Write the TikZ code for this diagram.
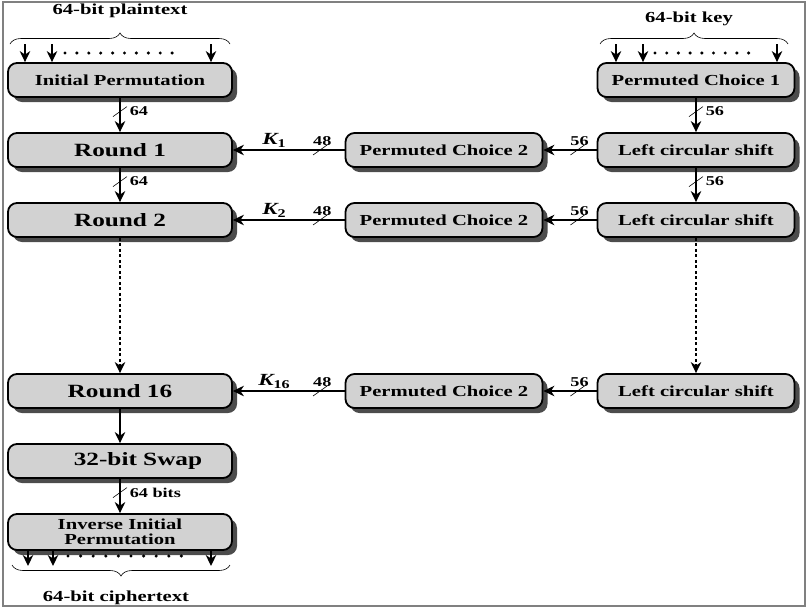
\documentclass[tikz,border=0pt]{standalone}
\usepackage{fontspec}
\setmainfont{Liberation Serif}[FakeStretch=1.35]
\usetikzlibrary{positioning, arrows.meta, shadows, decorations.pathreplacing, decorations.markings}
\tikzset{
	x=1pt, y=-1pt, % work in pixels of the original, y downwards
	node distance=70pt, % centre to centre spacing of the rows
	block/.style={draw, line width=1.8pt, rounded corners=9pt, fill=gray!35, minimum height=34pt, inner sep=2pt,
		drop shadow={shadow xshift=5pt, shadow yshift=-5pt, fill=black!70, opacity=1},
		font=\bfseries\fontsize{15.3}{15}\selectfont}, % grey rounded box with shadow
	wide/.style={block, minimum width=224pt},
	narrow/.style={block, minimum width=197pt},
	round/.style={wide, font=\bfseries\fontsize{18.7}{20}\selectfont},
	caption/.style={font=\bfseries\fontsize{15.3}{15}\selectfont, inner sep=1pt},
	num/.style={font=\bfseries\fontsize{13.5}{14}\selectfont, inner sep=1pt},
	klab/.style={font=\bfseries\fontsize{17}{18}\selectfont, inner sep=1pt},
	link/.style={line width=1.5pt, -{Stealth[length=11pt, width=10.5pt, inset=3.5pt]}}, % filled heads as in the book figure
	dots/.style={link, dash pattern=on 3pt off 2.5pt},
	bus/.style={postaction={decorate}, decoration={markings, mark=at position #1 with {\pgftransformresetnontranslations \draw[-, line width=0.6pt] (-7pt,-5pt) -- (7pt,5pt);}}}, % slash across a bus line
	bus/.default=0.4,
	curly/.style={decorate, decoration={brace, amplitude=11pt}, line width=0.6pt},
}

\begin{document}
\begin{tikzpicture}
	\useasboundingbox (0,0) rectangle (808,608);
	\draw[gray, line width=2pt] (2.5,2) rectangle (805,606);

	% data path
	\node[wide] (ip) at (120,80) {Initial Permutation};
	\node[round, below of=ip] (r1) {Round 1\hspace{22pt}};
	\node[round, below of=r1] (r2) {Round 2\hspace{22pt}};
	\node[round, below of=r2, node distance=171pt] (r16) {Round 16\hspace{24pt}};
	\node[round, below of=r16] (swap) {\hspace{36pt}32-bit Swap};
	\node[wide, below of=swap, node distance=71pt, align=center, minimum height=36pt, inner sep=1pt] (iip) {Inverse Initial\\Permutation};

	% key schedule
	\node[narrow, right of=ip, node distance=576pt] (pc1) {Permuted Choice 1};
	\node[narrow, below of=pc1] (ls1) {Left circular shift};
	\node[narrow, below of=ls1] (ls2) {Left circular shift};
	\node[narrow, below of=ls2, node distance=171pt] (ls16) {Left circular shift};
	\node[narrow, left of=ls1, node distance=252pt] (pc2a) {Permuted Choice 2};
	\node[narrow, left of=ls2, node distance=252pt] (pc2b) {Permuted Choice 2};
	\node[narrow, left of=ls16, node distance=252pt] (pc2c) {Permuted Choice 2};

	% inputs and output
	\node[caption] (plain) at (120,11) {64-bit plaintext};
	\draw[curly] (10,44) -- (230,44);
	\foreach \x [count=\i] in {25,52,211} {
		\coordinate (in\i) at (\x,44);
		\draw[link] (in\i) -- (in\i |- ip.north);
	}
	\foreach \i in {0,...,9} \fill (65+11.9*\i,53) circle (1.7);

	\node[caption] (key) at (689,19) {64-bit key};
	\draw[curly] (600,44) -- (788,44);
	\foreach \x [count=\i] in {616,643,777} {
		\coordinate (kin\i) at (\x,44);
		\draw[link] (kin\i) -- (kin\i |- pc1.north);
	}
	\foreach \i in {0,...,8} \fill (655+11.7*\i,53) circle (1.7);

	\foreach \x [count=\i] in {28,53,211} {
		\coordinate (out\i) at (\x,566);
		\draw[link] (out\i |- iip.south) -- (out\i);
	}
	\foreach \i in {0,...,9} \fill (68+12.6*\i,556) circle (1.7);
	\draw[curly] (230,565) -- (12,565);
	\node[caption] (cipher) at (116,598) {64-bit ciphertext};

	% connectors
	\draw[link, bus] (ip) -- node[pos=.4, right=8pt, num] {64} (r1);
	\draw[link, bus] (r1) -- node[pos=.4, right=8pt, num] {64} (r2);
	\draw[dots] (r2) -- (r16);
	\draw[link] (r16) -- (swap);
	\draw[link, bus] (swap) -- node[pos=.4, right=8pt, num] {64 bits} (iip);

	\draw[link, bus] (pc1) -- node[pos=.4, right=8pt, num] {56} (ls1);
	\draw[link, bus] (ls1) -- node[pos=.4, right=8pt, num] {56} (ls2);
	\draw[dots] (ls2) -- (ls16);

	\draw[link, bus=.36] (ls1) -- node[pos=.32, above=3pt, num] {56} (pc2a);
	\draw[link, bus=.36] (ls2) -- node[pos=.32, above=3pt, num] {56} (pc2b);
	\draw[link, bus=.36] (ls16) -- node[pos=.32, above=3pt, num] {56} (pc2c);
	\draw[link, bus=.22] (pc2a) -- node[pos=.2, above=3pt, num] {48} node[pos=.63, above=1pt, klab] {{\itshape K}\textsubscript{1}} (r1);
	\draw[link, bus=.22] (pc2b) -- node[pos=.2, above=3pt, num] {48} node[pos=.63, above=1pt, klab] {{\itshape K}\textsubscript{2}} (r2);
	\draw[link, bus=.22] (pc2c) -- node[pos=.2, above=3pt, num] {48} node[pos=.63, above=1pt, klab] {{\itshape K}\textsubscript{16}} (r16);
\end{tikzpicture}
\end{document}
